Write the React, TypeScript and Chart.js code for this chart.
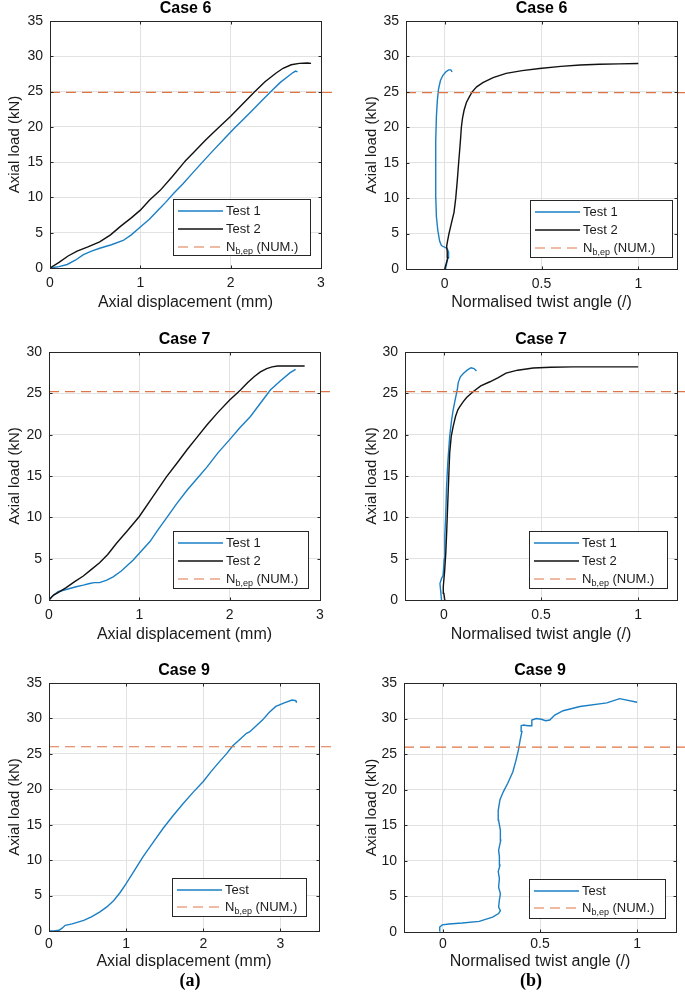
import React, { useEffect, useRef } from "react";
import { Chart, registerables } from "chart.js";

Chart.register(...registerables);

const FONT = "'Liberation Sans', Arial, Helvetica, sans-serif";
const BLUE = "#1a7fc4";
const BLACK = "#111111";
const ORANGE = "#df7446";
const GRID = "#e2e2e2";
const AXIS = "#262626";
const TEXT = "#1a1a1a";

// ---------- tick values / labels ----------
const dispXTicks = [0, 1, 2, 3];
const dispXTickLabels = ["0", "1", "2", "3"];
const twistXTicks = [0, 0.5, 1];
const twistXTickLabels = ["0", "0.5", "1"];
const load35Ticks = [0, 5, 10, 15, 20, 25, 30, 35];
const load35TickLabels = ["0", "5", "10", "15", "20", "25", "30", "35"];
const load30Ticks = [0, 5, 10, 15, 20, 25, 30];
const load30TickLabels = ["0", "5", "10", "15", "20", "25", "30"];

// ---------- Case 6, axial displacement ----------
const c6DispTest1X = [0, 0.1, 0.19, 0.28, 0.37, 0.46, 0.55, 0.68, 0.81, 0.9, 1.0, 1.1, 1.19, 1.28, 1.37, 1.47, 1.56, 1.68, 1.81, 1.93, 2.04, 2.15, 2.26, 2.36, 2.46, 2.55, 2.63, 2.69, 2.72, 2.74];
const c6DispTest1Y = [0, 0.2, 0.5, 1.1, 1.9, 2.4, 2.8, 3.3, 3.9, 4.7, 5.8, 6.9, 8.1, 9.3, 10.6, 11.9, 13.2, 14.9, 16.7, 18.3, 19.8, 21.2, 22.6, 23.9, 25.2, 26.3, 27.1, 27.7, 27.9, 27.8];
const c6DispTest2X = [0, 0.1, 0.2, 0.3, 0.42, 0.55, 0.67, 0.78, 0.9, 1.0, 1.1, 1.22, 1.35, 1.48, 1.5, 1.6, 1.72, 1.85, 2.0, 2.13, 2.26, 2.38, 2.5, 2.58, 2.67, 2.76, 2.85, 2.89];
const c6DispTest2Y = [0, 0.8, 1.7, 2.4, 3.0, 3.7, 4.7, 5.9, 7.1, 8.2, 9.6, 11.0, 12.9, 14.9, 15.2, 16.5, 18.1, 19.7, 21.5, 23.2, 24.9, 26.4, 27.6, 28.3, 28.8, 29.0, 29.05, 29.0];

// ---------- Case 6, twist angle ----------
const c6TwistTest1X = [0.004, 0.01, 0.017, 0.02, 0.012, -0.017, -0.026, -0.036, -0.043, -0.046, -0.047, -0.046, -0.043, -0.038, -0.032, -0.022, -0.01, 0.005, 0.02, 0.032, 0.038];
const c6TwistTest1Y = [0, 0.8, 1.6, 2.4, 2.9, 3.3, 3.9, 5.5, 7.4, 10, 14.5, 18, 21.5, 23.8, 25.4, 26.6, 27.3, 27.8, 28.1, 28.1, 27.8];
const c6TwistTest2X = [0, 0.008, 0.016, 0.013, 0.01, 0.015, 0.022, 0.035, 0.048, 0.057, 0.065, 0.072, 0.078, 0.083, 0.086, 0.092, 0.1, 0.112, 0.127, 0.142, 0.165, 0.197, 0.25, 0.317, 0.4, 0.49, 0.6, 0.7, 0.8, 0.9, 1.0];
const c6TwistTest2Y = [0, 0.8, 1.6, 2.4, 3.2, 4.0, 5.0, 6.5, 8.0, 10.0, 12.5, 15.0, 17.0, 18.8, 20.0, 21.3, 22.4, 23.5, 24.3, 25.0, 25.7, 26.3, 27.0, 27.6, 28.0, 28.3, 28.6, 28.8, 28.9, 28.95, 29.0];

// ---------- Case 7, axial displacement ----------
const c7DispTest1X = [0, 0.03, 0.1, 0.2, 0.3, 0.38, 0.45, 0.5, 0.56, 0.64, 0.71, 0.8, 0.93, 1.02, 1.12, 1.2, 1.3, 1.41, 1.53, 1.64, 1.75, 1.87, 2.0, 2.11, 2.23, 2.34, 2.45, 2.56, 2.67, 2.73];
const c7DispTest1Y = [0, 0.4, 1.0, 1.3, 1.6, 1.8, 2.0, 2.1, 2.1, 2.4, 2.8, 3.5, 4.8, 5.9, 7.1, 8.4, 9.9, 11.6, 13.3, 14.7, 16.1, 17.8, 19.4, 20.8, 22.2, 23.8, 25.4, 26.5, 27.5, 27.9];
const c7DispTest2X = [0, 0.05, 0.1, 0.19, 0.28, 0.38, 0.47, 0.56, 0.65, 0.75, 0.87, 1.0, 1.15, 1.3, 1.42, 1.53, 1.64, 1.75, 1.87, 2.0, 2.12, 2.2, 2.27, 2.34, 2.41, 2.47, 2.53, 2.65, 2.75, 2.83];
const c7DispTest2Y = [0, 0.6, 0.9, 1.5, 2.2, 2.9, 3.7, 4.5, 5.5, 6.9, 8.4, 10.1, 12.5, 14.9, 16.6, 18.2, 19.7, 21.2, 22.7, 24.2, 25.4, 26.3, 27.0, 27.6, 28.0, 28.2, 28.3, 28.3, 28.3, 28.3];

// ---------- Case 7, twist angle ----------
const c7TwistTest1X = [-0.012, -0.016, -0.02, -0.012, -0.004, 0.002, 0.005, 0.01, 0.014, 0.02, 0.03, 0.04, 0.048, 0.058, 0.065, 0.07, 0.074, 0.085, 0.1, 0.12, 0.14, 0.155, 0.168];
const c7TwistTest1Y = [0, 1.0, 2.0, 2.6, 3.0, 5.0, 7.7, 10.5, 13.7, 16.5, 19.8, 21.8, 23.0, 24.2, 25.0, 25.6, 26.3, 27.0, 27.4, 27.8, 28.1, 28.0, 27.7];
const c7TwistTest2X = [0.005, 0.0, -0.003, 0.004, 0.01, 0.015, 0.02, 0.025, 0.03, 0.038, 0.048, 0.06, 0.072, 0.082, 0.1, 0.117, 0.15, 0.19, 0.237, 0.28, 0.32, 0.38, 0.46, 0.55, 0.665, 0.8, 0.9, 1.0];
const c7TwistTest2Y = [0, 0.8, 1.6, 3.5, 5.7, 8.5, 11.7, 14.8, 17.8, 19.8, 21.0, 22.2, 23.0, 23.4, 24.0, 24.5, 25.2, 25.9, 26.4, 26.9, 27.45, 27.8, 28.06, 28.15, 28.2, 28.2, 28.2, 28.2];

// ---------- Case 9, axial displacement ----------
const c9DispTestX = [0, 0.06, 0.13, 0.17, 0.21, 0.3, 0.45, 0.55, 0.66, 0.75, 0.84, 0.92, 1.0, 1.1, 1.22, 1.35, 1.48, 1.61, 1.74, 1.87, 2.0, 2.1, 2.21, 2.3, 2.38, 2.48, 2.56, 2.6, 2.68, 2.77, 2.85, 2.94, 3.05, 3.15, 3.2, 3.21];
const c9DispTestY = [0, 0.0, 0.1, 0.4, 0.8, 1.0, 1.5, 2.0, 2.7, 3.4, 4.3, 5.4, 6.7, 8.4, 10.5, 12.5, 14.5, 16.3, 18.0, 19.6, 21.1, 22.5, 23.9, 25.0, 26.1, 27.1, 27.9, 28.1, 28.9, 29.8, 30.8, 31.7, 32.2, 32.6, 32.5, 32.2];

// ---------- Case 9, twist angle ----------
const c9TwistTestX = [-0.017, -0.016, -0.003, 0.031, 0.1, 0.187, 0.256, 0.287, 0.296, 0.287, 0.291, 0.296, 0.287, 0.291, 0.285, 0.294, 0.291, 0.287, 0.298, 0.296, 0.287, 0.285, 0.294, 0.311, 0.334, 0.36, 0.377, 0.389, 0.398, 0.407, 0.403, 0.415, 0.438, 0.455, 0.458, 0.481, 0.507, 0.529, 0.55, 0.576, 0.619, 0.706, 0.844, 0.91, 1.0];
const c9TwistTestY = [0.1, 0.7, 1.0, 1.13, 1.27, 1.5, 2.1, 2.6, 3.0, 3.5, 4.5, 5.4, 6.3, 7.5, 8.5, 9.4, 10.6, 11.5, 12.9, 14.3, 15.7, 17.1, 18.6, 19.7, 20.9, 22.5, 24.2, 25.6, 27.0, 28.2, 29.0, 29.1, 29.0, 29.0, 29.8, 30.0, 29.9, 29.7, 29.8, 30.5, 31.1, 31.7, 32.2, 32.8, 32.3];

// ---------- N_b,ep (NUM.) levels and drawn extents ----------
const nbCase6 = 24.9;
const nbCase7 = 25.2;
const nbCase9 = 26.0;
const nbDispExtentCase6 = [0, 3.13];
const nbDispExtentCase7 = [0, 3.11];
const nbDispExtentCase9 = [0, 3.67];
const nbTwistExtent = [-0.2, 1.3];

type Series = {
  label: string;
  x: number[];
  y: number[];
  color: string;
  dash?: number[];
  width?: number;
  noClip?: boolean;
  isNb?: boolean;
};

type Box = { l: number; t: number; r: number; b: number };

type PanelSpec = {
  title: string;
  xTitle: string;
  xMin: number;
  xMax: number;
  yMax: number;
  xTicks: number[];
  xTickLabels: string[];
  yTicks: number[];
  yTickLabels: string[];
  series: Series[];
  canvas: { left: number; top: number; width: number; height: number };
  plot: Box;
  legend: Box;
  xTickCenter: number;
  xTitleCenter: number;
  yTitleCenter: number;
};

const nbSeries = (level: number, ext: number[]): Series => ({
  label: "Nb",
  x: ext,
  y: [level, level],
  color: ORANGE,
  dash: [10, 6],
  width: 1.2,
  noClip: true,
  isNb: true,
});

const panels: PanelSpec[] = [
  {
    title: "Case 6",
    xTitle: "Axial displacement (mm)",
    xMin: 0, xMax: 3, yMax: 35,
    xTicks: dispXTicks, xTickLabels: dispXTickLabels,
    yTicks: load35Ticks, yTickLabels: load35TickLabels,
    series: [
      { label: "Test 1", x: c6DispTest1X, y: c6DispTest1Y, color: BLUE },
      { label: "Test 2", x: c6DispTest2X, y: c6DispTest2Y, color: BLACK },
      nbSeries(nbCase6, nbDispExtentCase6),
    ],
    canvas: { left: 0, top: 0, width: 340, height: 316 },
    plot: { l: 50, r: 321, t: 21, b: 268 },
    legend: { l: 173, t: 199, r: 310, b: 255 },
    xTickCenter: 283, xTitleCenter: 303, yTitleCenter: 15,
  },
  {
    title: "Case 6",
    xTitle: "Normalised twist angle (/)",
    xMin: -0.2, xMax: 1.2, yMax: 35,
    xTicks: twistXTicks, xTickLabels: twistXTickLabels,
    yTicks: load35Ticks, yTickLabels: load35TickLabels,
    series: [
      { label: "Test 1", x: c6TwistTest1X, y: c6TwistTest1Y, color: BLUE },
      { label: "Test 2", x: c6TwistTest2X, y: c6TwistTest2Y, color: BLACK },
      nbSeries(nbCase6, nbTwistExtent),
    ],
    canvas: { left: 340, top: 0, width: 345, height: 316 },
    plot: { l: 406, r: 677, t: 21, b: 269 },
    legend: { l: 530, t: 200, r: 672, b: 257 },
    xTickCenter: 284, xTitleCenter: 303, yTitleCenter: 372,
  },
  {
    title: "Case 7",
    xTitle: "Axial displacement (mm)",
    xMin: 0, xMax: 3, yMax: 30,
    xTicks: dispXTicks, xTickLabels: dispXTickLabels,
    yTicks: load30Ticks, yTickLabels: load30TickLabels,
    series: [
      { label: "Test 1", x: c7DispTest1X, y: c7DispTest1Y, color: BLUE },
      { label: "Test 2", x: c7DispTest2X, y: c7DispTest2Y, color: BLACK },
      nbSeries(nbCase7, nbDispExtentCase7),
    ],
    canvas: { left: 0, top: 318, width: 340, height: 330 },
    plot: { l: 49, r: 320, t: 352, b: 600 },
    legend: { l: 173, t: 531, r: 308, b: 588 },
    xTickCenter: 615, xTitleCenter: 635, yTitleCenter: 15,
  },
  {
    title: "Case 7",
    xTitle: "Normalised twist angle (/)",
    xMin: -0.2, xMax: 1.2, yMax: 30,
    xTicks: twistXTicks, xTickLabels: twistXTickLabels,
    yTicks: load30Ticks, yTickLabels: load30TickLabels,
    series: [
      { label: "Test 1", x: c7TwistTest1X, y: c7TwistTest1Y, color: BLUE },
      { label: "Test 2", x: c7TwistTest2X, y: c7TwistTest2Y, color: BLACK },
      nbSeries(nbCase7, nbTwistExtent),
    ],
    canvas: { left: 340, top: 318, width: 345, height: 330 },
    plot: { l: 405, r: 677, t: 352, b: 600 },
    legend: { l: 529, t: 531, r: 667, b: 588 },
    xTickCenter: 615, xTitleCenter: 635, yTitleCenter: 372,
  },
  {
    title: "Case 9",
    xTitle: "Axial displacement (mm)",
    xMin: 0, xMax: 3.5, yMax: 35,
    xTicks: dispXTicks, xTickLabels: dispXTickLabels,
    yTicks: load35Ticks, yTickLabels: load35TickLabels,
    series: [
      { label: "Test", x: c9DispTestX, y: c9DispTestY, color: BLUE },
      nbSeries(nbCase9, nbDispExtentCase9),
    ],
    canvas: { left: 0, top: 650, width: 340, height: 325 },
    plot: { l: 49, r: 319, t: 683, b: 931 },
    legend: { l: 172, t: 878, r: 306, b: 916 },
    xTickCenter: 944, xTitleCenter: 962, yTitleCenter: 15,
  },
  {
    title: "Case 9",
    xTitle: "Normalised twist angle (/)",
    xMin: -0.2, xMax: 1.2, yMax: 35,
    xTicks: twistXTicks, xTickLabels: twistXTickLabels,
    yTicks: load35Ticks, yTickLabels: load35TickLabels,
    series: [
      { label: "Test", x: c9TwistTestX, y: c9TwistTestY, color: BLUE },
      nbSeries(nbCase9, nbTwistExtent),
    ],
    canvas: { left: 340, top: 650, width: 345, height: 325 },
    plot: { l: 404, r: 676, t: 683, b: 932 },
    legend: { l: 529, t: 879, r: 665, b: 918 },
    xTickCenter: 944, xTitleCenter: 962, yTitleCenter: 372,
  },
];

const TICK_FONT = 14;
const X_TITLE_FONT = 16;
const Y_TITLE_FONT = 15;
const HEAD_FONT = 16;
const LEGEND_FONT = 13;

function Panel({ spec }: { spec: PanelSpec }) {
  const ref = useRef<HTMLCanvasElement | null>(null);

  useEffect(() => {
    const canvas = ref.current;
    if (!canvas) return;
    const c = spec.canvas;
    const p = spec.plot;
    const canvasBottom = c.top + c.height;

    const al = (v: number) => Math.round(v) + 0.5;

    const decor = {
      id: "matlabDecor",
      afterDraw(chart: any) {
        const { ctx, chartArea: a, scales } = chart;
        ctx.save();
        ctx.strokeStyle = AXIS;
        ctx.lineWidth = 1;
        ctx.setLineDash([]);
        const L = al(a.left), R = al(a.right), T = al(a.top), B = al(a.bottom);
        ctx.strokeRect(L, T, R - L, B - T);
        ctx.beginPath();
        spec.xTicks.forEach((v) => {
          const px = al(scales.x.getPixelForValue(v));
          ctx.moveTo(px, B); ctx.lineTo(px, B - 3);
          ctx.moveTo(px, T); ctx.lineTo(px, T + 3);
        });
        spec.yTicks.forEach((v) => {
          const py = al(scales.y.getPixelForValue(v));
          ctx.moveTo(L, py); ctx.lineTo(L + 3, py);
          ctx.moveTo(R, py); ctx.lineTo(R - 3, py);
        });
        ctx.stroke();

        ctx.fillStyle = "#000";
        ctx.font = `bold ${HEAD_FONT}px ${FONT}`;
        ctx.textAlign = "center";
        ctx.textBaseline = "middle";
        ctx.fillText(spec.title, (a.left + a.right) / 2, a.top - 12);

        const lg = spec.legend;
        const lx = lg.l - c.left, ly = lg.t - c.top;
        const lw = lg.r - lg.l, lh = lg.b - lg.t;
        ctx.fillStyle = "#ffffff";
        ctx.fillRect(al(lx), al(ly), lw, lh);
        ctx.strokeStyle = AXIS;
        ctx.lineWidth = 1;
        ctx.strokeRect(al(lx), al(ly), lw, lh);
        const n = spec.series.length;
        const step = n === 3 ? 18 : 17;
        spec.series.forEach((s, i) => {
          const y = ly + 12 + i * step;
          ctx.beginPath();
          ctx.strokeStyle = s.color;
          ctx.lineWidth = s.width ?? 1.4;
          ctx.setLineDash(s.dash ?? []);
          ctx.moveTo(lx + 5, y);
          ctx.lineTo(lx + 50, y);
          ctx.stroke();
          ctx.setLineDash([]);
          ctx.fillStyle = TEXT;
          ctx.textAlign = "left";
          ctx.textBaseline = "middle";
          let tx = lx + 53;
          if (s.isNb) {
            ctx.font = `${LEGEND_FONT}px ${FONT}`;
            ctx.fillText("N", tx, y);
            tx += ctx.measureText("N").width;
            ctx.font = `9px ${FONT}`;
            ctx.fillText("b,ep", tx, y + 5);
            tx += ctx.measureText("b,ep").width;
            ctx.font = `${LEGEND_FONT}px ${FONT}`;
            ctx.fillText(" (NUM.)", tx, y);
          } else {
            ctx.font = `${LEGEND_FONT}px ${FONT}`;
            ctx.fillText(s.label, tx, y);
          }
        });
        ctx.restore();
      },
    };

    const ds = spec.series
      .map((s) => ({
        label: s.label,
        data: s.x.map((x, i) => ({ x, y: s.y[i] })),
        showLine: true,
        borderColor: s.color,
        backgroundColor: s.color,
        borderWidth: s.width ?? 1.4,
        borderDash: s.dash ?? [],
        pointRadius: 0,
        pointHoverRadius: 0,
        tension: 0,
        fill: false,
        clip: s.noClip ? (false as any) : undefined,
      }))
      .reverse();

    const tickPadX = spec.xTickCenter - p.b - (TICK_FONT * 1.2) / 2;
    const xTitlePadB = canvasBottom - spec.xTitleCenter - (X_TITLE_FONT * 1.2) / 2;
    const yTitlePadT = spec.yTitleCenter - c.left - (Y_TITLE_FONT * 1.2) / 2;

    const chart = new Chart(canvas, {
      type: "scatter",
      data: { datasets: ds as any },
      options: {
        animation: false,
        responsive: false,
        maintainAspectRatio: false,
        events: [],
        layout: {
          padding: {
            left: 0,
            top: p.t - c.top,
            right: c.left + c.width - p.r,
            bottom: 0,
          },
        },
        plugins: {
          legend: { display: false },
          tooltip: { enabled: false },
          title: { display: false },
        },
        scales: {
          x: {
            type: "linear",
            min: spec.xMin,
            max: spec.xMax,
            afterBuildTicks: (s: any) => {
              s.ticks = spec.xTicks.map((v) => ({ value: v }));
            },
            afterFit: (s: any) => {
              s.height = canvasBottom - p.b;
            },
            grid: { color: GRID, drawTicks: false, lineWidth: 1 },
            border: { display: false },
            ticks: {
              autoSkip: false,
              maxRotation: 0,
              padding: tickPadX,
              color: TEXT,
              font: { family: FONT, size: TICK_FONT },
              callback: (_v: any, i: number) => spec.xTickLabels[i],
            },
            title: {
              display: true,
              text: spec.xTitle,
              color: TEXT,
              font: { family: FONT, size: X_TITLE_FONT },
              padding: { top: 0, bottom: xTitlePadB },
            },
          },
          y: {
            type: "linear",
            min: 0,
            max: spec.yMax,
            afterBuildTicks: (s: any) => {
              s.ticks = spec.yTicks.map((v) => ({ value: v }));
            },
            afterFit: (s: any) => {
              s.width = p.l - c.left;
            },
            grid: { color: GRID, drawTicks: false, lineWidth: 1 },
            border: { display: false },
            ticks: {
              autoSkip: false,
              padding: 7,
              color: TEXT,
              font: { family: FONT, size: TICK_FONT },
              callback: (_v: any, i: number) => spec.yTickLabels[i],
            },
            title: {
              display: true,
              text: "Axial load (kN)",
              color: TEXT,
              font: { family: FONT, size: Y_TITLE_FONT },
              padding: { top: yTitlePadT, bottom: 0 },
            },
          },
        },
      } as any,
      plugins: [decor as any],
    });

    return () => chart.destroy();
  }, [spec]);

  const c = spec.canvas;
  return (
    <canvas
      ref={ref}
      width={c.width}
      height={c.height}
      style={{
        position: "absolute",
        left: c.left,
        top: c.top,
        width: c.width,
        height: c.height,
      }}
    />
  );
}

const subLabelStyle = (cx: number): React.CSSProperties => ({
  position: "absolute",
  left: cx - 30,
  top: 969,
  width: 60,
  textAlign: "center",
  fontFamily: "'Liberation Serif', 'Times New Roman', serif",
  fontWeight: "bold",
  fontSize: 18,
  lineHeight: "22px",
  color: "#000",
});

export default function App() {
  return (
    <div
      style={{
        position: "absolute",
        left: 0,
        top: 0,
        width: 685,
        height: 995,
        background: "#ffffff",
        overflow: "hidden",
      }}
    >
      {panels.map((s, i) => (
        <Panel key={i} spec={s} />
      ))}
      <div style={subLabelStyle(190)}>(a)</div>
      <div style={subLabelStyle(531)}>(b)</div>
    </div>
  );
}
